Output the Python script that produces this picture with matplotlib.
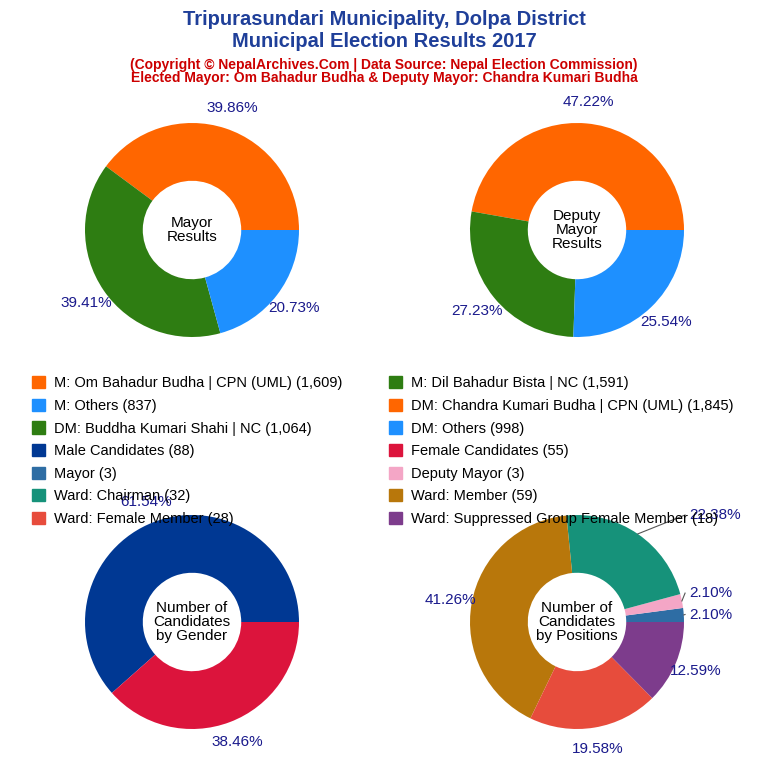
import numpy as np
import matplotlib.pyplot as plt
from matplotlib.patches import Patch

plt.rcParams["font.family"] = "Liberation Sans"

orange, green, blue = "#FF6600", "#2E7D12", "#1E90FF"

mayor_vals = [39.86, 39.41, 20.73]
mayor_cols = [orange, green, blue]
deputy_vals = [47.22, 27.23, 25.54]
deputy_cols = [orange, green, blue]
gender_vals = [61.54, 38.46]
gender_cols = ["#003893", "#DC143C"]
pos_vals = [2.10, 2.10, 22.38, 41.26, 19.58, 12.59]
pos_cols = ["#2E6DA4", "#F4A6C6", "#16927A", "#B8770B", "#E74C3C", "#7D3C8C"]

legend_labels = [
    "M: Om Bahadur Budha | CPN (UML) (1,609)", "M: Others (837)",
    "DM: Buddha Kumari Shahi | NC (1,064)", "Male Candidates (88)",
    "Mayor (3)", "Ward: Chairman (32)", "Ward: Female Member (28)",
    "M: Dil Bahadur Bista | NC (1,591)", "DM: Chandra Kumari Budha | CPN (UML) (1,845)",
    "DM: Others (998)", "Female Candidates (55)", "Deputy Mayor (3)",
    "Ward: Member (59)", "Ward: Suppressed Group Female Member (18)",
]
legend_cols = [orange, blue, green, "#003893", "#2E6DA4", "#16927A", "#E74C3C",
               green, orange, blue, "#DC143C", "#F4A6C6", "#B8770B", "#7D3C8C"]

fig = plt.figure(figsize=(7.68, 7.68), dpi=100)
fig.text(0.5, 0.975, "Tripurasundari Municipality, Dolpa District", ha="center", va="center",
         fontsize=14.5, fontweight="bold", color="#1F3F99")
fig.text(0.5, 0.946, "Municipal Election Results 2017", ha="center", va="center",
         fontsize=14.5, fontweight="bold", color="#1F3F99")
fig.text(0.5, 0.916, "(Copyright © NepalArchives.Com | Data Source: Nepal Election Commission)",
         ha="center", va="center", fontsize=10, fontweight="bold", color="#CC0000")
fig.text(0.5, 0.898, "Elected Mayor: Om Bahadur Budha & Deputy Mayor: Chandra Kumari Budha",
         ha="center", va="center", fontsize=10, fontweight="bold", color="#CC0000")


def donut(cx, cy, vals, cols, center, outside=None):
    size = 214 / 768
    ax = fig.add_axes([cx / 768 - size / 2, 1 - cy / 768 - size / 2, size, size])
    wedges, _ = ax.pie(vals, colors=cols, startangle=0, counterclock=True,
                       wedgeprops=dict(width=0.54, edgecolor="none"))
    for i, (w, v) in enumerate(zip(wedges, vals)):
        ang = np.deg2rad((w.theta1 + w.theta2) / 2)
        if outside and i in outside:
            tx, ty = outside[i]
            ax.plot([np.cos(ang), tx - 0.04], [np.sin(ang), ty], color="#555555", lw=0.8,
                    clip_on=False)
            ax.text(tx, ty, f"{v:.2f}%", ha="left", va="center", fontsize=11, color="#1A1A8C")
        else:
            ax.text(1.2 * np.cos(ang), 1.2 * np.sin(ang), f"{v:.2f}%", ha="center",
                    va="center", fontsize=11, color="#1A1A8C")
    ax.text(0, 0, center, ha="center", va="center", fontsize=11, linespacing=1.0)
    ax.set_xlim(-1, 1)
    ax.set_ylim(-1, 1)
    ax.set_aspect("equal")
    ax.axis("off")


donut(192, 230, mayor_vals, mayor_cols, "Mayor\nResults")
donut(577, 230, deputy_vals, deputy_cols, "Deputy\nMayor\nResults")
donut(192, 622, gender_vals, gender_cols, "Number of\nCandidates\nby Gender")
donut(577, 622, pos_vals, pos_cols, "Number of\nCandidates\nby Positions",
      outside={0: (1.05, 0.07), 1: (1.05, 0.27), 2: (1.05, 1.0)})

handles = [Patch(color=c) for c in legend_cols]
fig.legend(handles, legend_labels, ncol=2, loc="upper left", bbox_to_anchor=(0.025, 0.527),
           frameon=False, fontsize=10.5, handlelength=0.9, handleheight=0.9,
           labelspacing=0.58, columnspacing=3.2, handletextpad=0.6)

fig.savefig("out.png", dpi=100)
